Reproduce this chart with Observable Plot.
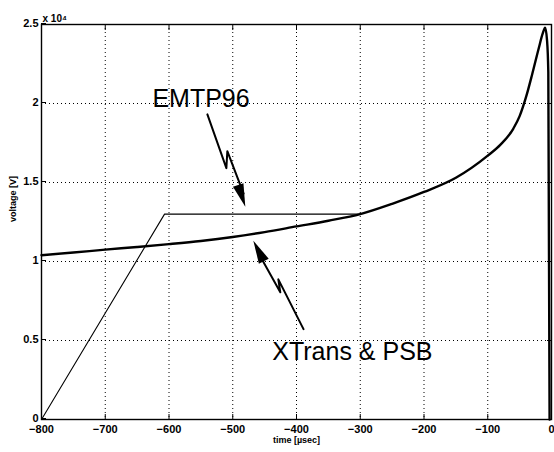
<!DOCTYPE html>
<html><head><meta charset="utf-8">
<script src="https://cdn.jsdelivr.net/npm/d3@7"></script>
<script src="https://cdn.jsdelivr.net/npm/@observablehq/plot@0.6"></script>
<style>body{margin:0;background:#fff} svg{display:block}</style>
</head><body><div id="chart"></div>
<script>
// XTrans & PSB curve (voltage in units of 1e4 V)
const curveT = [-800,-750,-700,-650,-600,-550,-500,-450,-400,-350,-300,-250,-200,-150,-100,-80,-60,-50,-40,-30,-20,-14,-10,-7,-5,-3];
const curveV = [1.04,1.057,1.075,1.092,1.11,1.13,1.155,1.186,1.222,1.258,1.30,1.365,1.44,1.53,1.67,1.74,1.84,1.92,2.04,2.19,2.35,2.44,2.48,2.4,2.2,0];
// EMTP96 ramp and plateau (after -300 it coincides with the curve)
const emtpT = [-800,-607,-300];
const emtpV = [0,1.30,1.30];
const xTicks = [-800,-700,-600,-500,-400,-300,-200,-100,0];
const yTicks = [0,0.5,1,1.5,2,2.5];
const yTickLabels = ["0","0.5","1","1.5","2","2.5"];
// annotations
const emtpArrowT = [-539.8,-510,-508.5,-483];
const emtpArrowV = [1.931,1.591,1.698,1.43];
const xtArrowT = [-389,-428.5,-425.4,-462];
const xtArrowV = [0.572,0.887,0.805,1.07];
const labelTexts = ["EMTP96","XTrans & PSB"];
const labelT = [-626,-438];
const labelV = [1.975,0.377];
const headT = [-480.3,-467.7];
const headV = [1.346,1.132];
const headRot = [162,-27];

const curve = curveT.map((t,i)=>({t, v: curveV[i]}));
const emtp = emtpT.map((t,i)=>({t, v: emtpV[i]}));
const emtpArrow = emtpArrowT.map((t,i)=>({t, v: emtpArrowV[i]}));
const xtArrow = xtArrowT.map((t,i)=>({t, v: xtArrowV[i]}));
const labels = labelTexts.map((s,i)=>({s, t: labelT[i], v: labelV[i]}));
const heads = headT.map((t,i)=>({t, v: headV[i], r: headRot[i]}));

// filled arrowhead symbol: tip at the point, pointing along the given angle (deg clockwise from up)
function headSymbol(deg) {
  return {draw(ctx) {
    const a = deg * Math.PI / 180, L = 23, W = 5.5;
    const dx = Math.sin(a), dy = -Math.cos(a);
    const bx = -L * dx, by = -L * dy, px = -dy, py = dx;
    ctx.moveTo(0, 0);
    ctx.lineTo(bx + W * px, by + W * py);
    ctx.lineTo(bx - W * px, by - W * py);
    ctx.closePath();
  }};
}

const font = "'Liberation Sans', Arial, Helvetica, sans-serif";
const chart = Plot.plot({
  width: 554, height: 452,
  marginLeft: 41, marginRight: 3, marginTop: 24, marginBottom: 33,
  style: {fontFamily: font, fontSize: "11px", fontWeight: "bold", color: "black", background: "white"},
  x: {domain: [-800, 0], axis: null},
  y: {domain: [0, 2.5], axis: null},
  marks: [
    Plot.gridX(xTicks, {stroke: "black", strokeOpacity: 1, strokeDasharray: "1,3", strokeWidth: 1}),
    Plot.gridY(yTicks, {stroke: "black", strokeOpacity: 1, strokeDasharray: "1,3", strokeWidth: 1}),
    Plot.axisX(xTicks, {anchor: "bottom", label: null, tickSize: -5, tickPadding: 11, tickFormat: d => d === 0 ? "0" : "\u2212" + Math.abs(d)}),
    Plot.axisX(xTicks, {anchor: "top", label: null, tickSize: -5, tickFormat: () => ""}),
    Plot.axisY(yTicks, {anchor: "left", label: null, tickSize: -5, tickPadding: 8, dy: -1, tickFormat: d => yTickLabels[yTicks.indexOf(d)]}),
    Plot.axisY(yTicks, {anchor: "right", label: null, tickSize: -5, tickFormat: () => ""}),
    Plot.frame({stroke: "black", strokeWidth: 1.4}),
    Plot.line(emtp, {x: "t", y: "v", stroke: "black", strokeWidth: 1.1}),
    Plot.line(curve, {x: "t", y: "v", stroke: "black", strokeWidth: 2.4, curve: "monotone-x"}),
    Plot.line(emtpArrow, {x: "t", y: "v", stroke: "black", strokeWidth: 2}),
    Plot.line(xtArrow, {x: "t", y: "v", stroke: "black", strokeWidth: 2}),
    ...heads.map(h => Plot.dot([h], {x: "t", y: "v", symbol: headSymbol(h.r), r: 5, fill: "black", stroke: "none"})),
    Plot.text(labels, {x: "t", y: "v", text: "s", textAnchor: "start", lineAnchor: "bottom", fontSize: 25, fontWeight: "normal"}),
    Plot.text(["x 10\u2074"], {frameAnchor: "top-left", textAnchor: "start", lineAnchor: "bottom", dx: 1, dy: -3, fontSize: 10}),
    Plot.text(["time [\u00b5sec]"], {frameAnchor: "bottom", dy: 23, fontSize: 9}),
    Plot.text(["voltage [V]"], {frameAnchor: "left", dx: -28, rotate: -90, fontSize: 9})
  ]
});
document.getElementById("chart").appendChild(chart);
</script>
</body></html>
